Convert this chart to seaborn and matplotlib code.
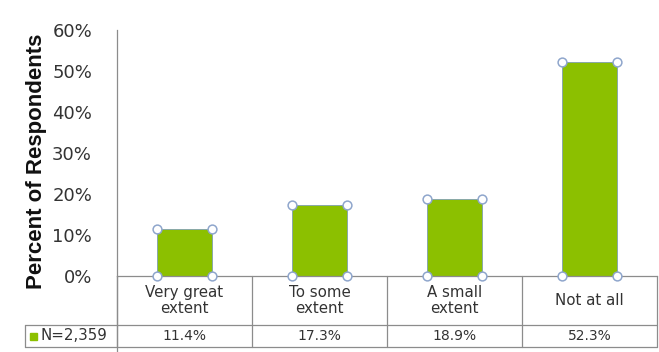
import numpy as np
import pandas as pd
import matplotlib
matplotlib.use("Agg")
import matplotlib.pyplot as plt
import seaborn as sns
from matplotlib.lines import Line2D
from matplotlib.patches import Rectangle
import matplotlib.transforms as mtransforms

# ---- data --------------------------------------------------------
categories = ["Very great\nextent", "To some\nextent", "A small\nextent", "Not at all"]
percent = [11.4, 17.3, 18.9, 52.3]
value_labels = ["11.4%", "17.3%", "18.9%", "52.3%"]
series_name = "N=2,359"
yticks = [0, 10, 20, 30, 40, 50, 60]

GREEN = "#8cc000"
HANDLE = "#8fa6cc"
GRID = "#8c8c8c"
TXT = "#333333"

df = pd.DataFrame({"cat": categories, "pct": percent})

sns.set_style("white")
plt.rcParams["font.family"] = ["DejaVu Sans"]

W, H = 659, 352
fig = plt.figure(figsize=(W / 100, H / 100), dpi=100)

# axes box in pixel terms: left 117, right 657, baseline y=276, 60% at y=30
left, right, base, top = 117, 657, 276, 30
ax = fig.add_axes([left / W, (H - base) / H, (right - left) / W, (base - top) / H])

sns.barplot(data=df, x="cat", y="pct", color=GREEN, width=0.41,
            saturation=1, edgecolor="#7f9fb0", linewidth=0.6, ax=ax)
ax.set_xlim(-0.5, len(categories) - 0.5)
ax.set_ylim(0, 60)
ax.set_yticks(yticks)
ax.set_yticklabels([f"{t}%" for t in yticks], fontsize=13, color=TXT)
ax.tick_params(axis="y", length=0, pad=18)
ax.set_xticks([])
ax.set_xlabel("")
ax.set_ylabel("")
for s in ["top", "right"]:
    ax.spines[s].set_visible(False)
for s in ["left", "bottom"]:
    ax.spines[s].set_color(GRID)
    ax.spines[s].set_linewidth(0.9)

# selection handles at bar corners
for p in ax.patches:
    x0, y0 = p.get_x(), p.get_y()
    x1, y1 = x0 + p.get_width(), y0 + p.get_height()
    ax.scatter([x0, x1, x0, x1], [y0, y0, y1, y1], s=40, facecolor="white",
               edgecolor=HANDLE, linewidth=1.1, zorder=5, clip_on=False)

# ---- data table under the axis -----------------------------------
fy = lambda py: (H - py) / H
fx = lambda px: px / W
row1, row2 = 325, 347
trans_x = mtransforms.blended_transform_factory(ax.transData, fig.transFigure)

# vertical column boundaries (category boundaries in data coords)
for b in np.arange(-0.5, len(categories), 1.0):
    fig.add_artist(Line2D([b, b], [fy(row2), fy(base)], transform=trans_x,
                          color=GRID, lw=0.9))
# left axis spine runs down through the table
fig.add_artist(Line2D([fx(left)] * 2, [fy(352), fy(base)], color=GRID, lw=0.9))
# horizontal lines
fig.add_artist(Line2D([fx(25), fx(right)], [fy(row1)] * 2, color=GRID, lw=0.9))
fig.add_artist(Line2D([fx(25), fx(right)], [fy(row2)] * 2, color=GRID, lw=0.9))
fig.add_artist(Line2D([fx(25)] * 2, [fy(row2), fy(row1)], color=GRID, lw=0.9))

for i, (c, v) in enumerate(zip(categories, value_labels)):
    fig.text(i, fy((base + row1) / 2), c, transform=trans_x, ha="center",
             va="center", fontsize=10.8, color=TXT, linespacing=1.1)
    fig.text(i, fy((row1 + row2) / 2), v, transform=trans_x, ha="center",
             va="center", fontsize=10, color=TXT)

# legend key in the row header
fig.add_artist(Rectangle((fx(30), fy(340)), 7 / W, 7 / H, color=GREEN,
                         transform=fig.transFigure))
fig.text(fx(41), fy((row1 + row2) / 2), series_name, ha="left", va="center",
         fontsize=10.8, color=TXT)

# y-axis title
fig.text(fx(37), fy(161), "Percent of Respondents", rotation=90,
         ha="center", va="center", fontsize=16, fontweight="bold",
         family=["Liberation Sans", "DejaVu Sans"], color="#111111")

fig.savefig("out.png", dpi=100)
